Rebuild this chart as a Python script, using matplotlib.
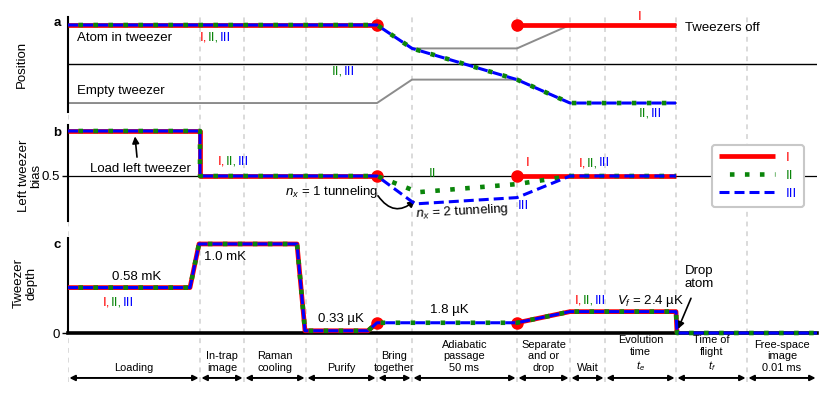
import matplotlib.pyplot as plt
from matplotlib.lines import Line2D
from matplotlib.offsetbox import TextArea, HPacker, AnnotationBbox

plt.rcParams['font.family'] = ['Liberation Sans', 'DejaVu Sans']
plt.rcParams['mathtext.fontset'] = 'custom'
plt.rcParams['mathtext.rm'] = 'Liberation Sans'
plt.rcParams['mathtext.it'] = 'Liberation Sans:italic'
plt.rcParams['lines.scale_dashes'] = False

nan = float('nan')

# stage boundaries (arbitrary time units) and stage names
bounds = [0, 13.2, 17.6, 23.8, 30.9, 34.4, 44.9, 50.2, 53.7, 60.8, 67.9, 74.9]
stages = ['Loading', 'In-trap\nimage', 'Raman\ncooling', 'Purify', 'Bring\ntogether',
          'Adiabatic\npassage\n50 ms', 'Separate\nand or\ndrop', 'Wait',
          'Evolution\ntime\n$t_e$', 'Time of\nflight\n$t_f$', 'Free-space\nimage\n0.01 ms']

# panel a: position
a_t_I = [0, 30.9, nan, 44.9, 60.8]
a_y_I = [1, 1, nan, 1, 1]
a_t_atom = [0, 30.9, 34.4, 44.9, 50.2, 60.8]
a_y_atom = [1, 1, 0.4, -0.4, -1, -1]
a_t_tw = [0, 30.9, 34.4, 44.9, 50.2, 60.8]
a_y_tw_top = [1, 1, 0.4, 0.4, 1, 1]
a_y_tw_bot = [-1, -1, -0.4, -0.4, -1, -1]
a_dots_t = [30.9, 44.9]
a_dots_y = [1, 1]

# panel b: left tweezer bias
b_t_I = [0, 13.2, 13.2, 30.9, nan, 44.9, 60.8]
b_y_I = [1, 1, 0.5, 0.5, nan, 0.5, 0.5]
b_t_II = [0, 13.2, 13.2, 30.9, 35.0, 44.9, 50.2, 60.8]
b_y_II = [1, 1, 0.5, 0.5, 0.32, 0.41, 0.5, 0.5]
b_t_III = [0, 13.2, 13.2, 30.9, 34.7, 44.9, 50.2, 60.8]
b_y_III = [1, 1, 0.5, 0.5, 0.19, 0.26, 0.5, 0.5]
b_dots_t = [30.9, 44.9]
b_dots_y = [0.5, 0.5]

# panel c: tweezer depth
c_t = [0, 12.2, 13.1, 22.9, 23.7, 30.0, 30.9, 44.9, 50.2, 60.8, 60.9, 74.9]
c_y = [0.51, 0.51, 1.0, 1.0, 0.025, 0.025, 0.115, 0.115, 0.24, 0.24, 0.0, 0.0]
c_t_I = [0, 12.2, 13.1, 22.9, 23.7, 30.0, 30.9, nan, 44.9, 50.2, 60.8, 60.9]
c_y_I = [0.51, 0.51, 1.0, 1.0, 0.025, 0.025, 0.115, nan, 0.115, 0.24, 0.24, 0.0]
c_dots_t = [30.9, 44.9]
c_dots_y = [0.115, 0.115]

RED, GREEN, BLUE, GRAY = '#ff0000', '#0a850a', '#0000ff', '#8c8c8c'
sty_I = dict(color=RED, lw=3.4, solid_capstyle='butt', zorder=3)
sty_II = dict(color=GREEN, lw=3.3, linestyle=(3.3, (3.3, 7.5)), dash_capstyle='butt', zorder=4)
sty_III = dict(color=BLUE, lw=2.2, linestyle=(0, (7.2, 3.6)), dash_capstyle='butt', zorder=5)
dot_sty = dict(color=RED, marker='o', ms=8, ls='none', zorder=3.5)

W, H = 831, 396
FS = 9.5


def px_axes(x0, y_top, x1, y_bot):
    return fig.add_axes([x0 / W, 1 - y_bot / H, (x1 - x0) / W, (y_bot - y_top) / H])


def multicolor(ax, x, y, parts):
    boxes = [TextArea(s, textprops=dict(color=c, fontsize=FS)) for s, c in parts]
    pack = HPacker(children=boxes, align='baseline', pad=0, sep=0.5)
    ab = AnnotationBbox(pack, (x, y), xycoords='data', frameon=False,
                        box_alignment=(0, 0.5), pad=0, annotation_clip=False)
    ax.add_artist(ab)


I_II_III = [('I,', RED), ('II,', GREEN), ('III', BLUE)]
II_III = [('II,', GREEN), ('III', BLUE)]

fig = plt.figure(figsize=(W / 100, H / 100), dpi=100)

# background axes carrying the dashed stage separators
bg = px_axes(68, 17, 817, 382)
bg.set_xlim(bounds[0], bounds[-1])
bg.set_ylim(0, 1)
bg.axis('off')
for b in bounds[:-1]:
    bg.axvline(b, color='#d4d4d4', lw=1.2, ls=(0, (3.5, 3.5)), zorder=0)

ax_a = px_axes(68, 17, 817, 112)
ax_b = px_axes(68, 124.7, 817, 221)
ax_c = px_axes(68, 238, 817, 333)
ax_t = px_axes(68, 340, 817, 392)

for ax in (ax_a, ax_b, ax_c, ax_t):
    ax.set_xlim(bounds[0], bounds[-1])
    ax.patch.set_visible(False)
    for s in ('top', 'right', 'bottom'):
        ax.spines[s].set_visible(False)
    ax.spines['left'].set_linewidth(1.5)
    ax.set_xticks([])

# ---- panel a ----
ax_a.set_ylim(-1.23, 1.205)
ax_a.set_yticks([])
ax_a.axhline(0, color='k', lw=1.0, zorder=1)
ax_a.plot(a_t_tw, a_y_tw_top, color=GRAY, lw=1.4, zorder=2)
ax_a.plot(a_t_tw, a_y_tw_bot, color=GRAY, lw=1.4, zorder=2)
ax_a.plot(a_t_I, a_y_I, **sty_I)
ax_a.plot(a_t_atom, a_y_atom, **sty_II)
ax_a.plot(a_t_atom, a_y_atom, **sty_III)
ax_a.plot(a_dots_t, a_dots_y, **dot_sty)
ax_a.text(0.9, 0.67, 'Atom in tweezer', fontsize=FS, va='center')
multicolor(ax_a, 13.2, 0.67, I_II_III)
multicolor(ax_a, 26.4, -0.2, II_III)
ax_a.text(0.9, -0.69, 'Empty tweezer', fontsize=FS, va='center')
ax_a.text(57.2, 1.2, 'I', color=RED, fontsize=FS, ha='center', va='center', clip_on=False)
ax_a.text(61.7, 0.92, 'Tweezers off', fontsize=FS, va='center')
multicolor(ax_a, 57.1, -1.27, II_III)

# ---- panel b ----
ax_b.set_ylim(0, 1.07)
ax_b.set_yticks([0.5])
ax_b.set_yticklabels(['0.5'], fontsize=FS)
ax_b.tick_params(axis='y', length=4, width=1, pad=2)
ax_b.axhline(0.5, color='k', lw=0.9, zorder=1)
ax_b.plot(b_t_I, b_y_I, **sty_I)
ax_b.plot(b_t_II, b_y_II, **sty_II)
ax_b.plot(b_t_III, b_y_III, **sty_III)
ax_b.plot(b_dots_t, b_dots_y, **dot_sty)
ax_b.text(7.25, 0.58, 'Load left tweezer', fontsize=FS, ha='center', va='center')
ax_b.annotate('', xy=(6.7, 0.94), xytext=(6.9, 0.71),
              arrowprops=dict(arrowstyle='-|>', color='k', lw=1.2, mutation_scale=10,
                              shrinkA=0, shrinkB=0))
multicolor(ax_b, 15.0, 0.66, I_II_III)
ax_b.text(31.0, 0.32, '$n_x$ = 1 tunneling', fontsize=FS, ha='right', va='center')
ax_b.annotate('', xy=(34.7, 0.23), xytext=(31.0, 0.28),
              arrowprops=dict(arrowstyle='-|>', color='k', lw=1.2, mutation_scale=10,
                              shrinkA=0, shrinkB=0, connectionstyle='arc3,rad=0.55'))
ax_b.text(39.4, 0.1, '$n_x$ = 2 tunneling', fontsize=FS, ha='center', va='center', rotation=3)
ax_b.text(36.5, 0.52, 'II', color=GREEN, fontsize=FS, ha='center', va='center')
ax_b.text(45.5, 0.17, 'III', color=BLUE, fontsize=FS, ha='center', va='center')
ax_b.text(46.0, 0.64, 'I', color=RED, fontsize=FS, ha='center', va='center')
multicolor(ax_b, 51.1, 0.64, I_II_III)

handles = [Line2D([], [], **{k: v for k, v in sty_I.items() if k != 'zorder'}),
           Line2D([], [], **{k: v for k, v in sty_II.items() if k != 'zorder'}),
           Line2D([], [], **{k: v for k, v in sty_III.items() if k != 'zorder'})]
leg = ax_b.legend(handles, ['I', 'II', 'III'], loc='upper left', bbox_to_anchor=(0.86, 0.79),
                  fontsize=FS, handlelength=4.3, handletextpad=0.8, labelspacing=0.45,
                  borderpad=0.5, borderaxespad=0, framealpha=1, edgecolor='#c8c8c8')
leg.get_frame().set_linewidth(1.5)
for txt, col in zip(leg.get_texts(), [RED, GREEN, BLUE]):
    txt.set_color(col)

# ---- panel c ----
ax_c.set_ylim(0, 1.067)
ax_c.spines['bottom'].set_visible(True)
ax_c.spines['bottom'].set_linewidth(2.6)
ax_c.set_yticks([0])
ax_c.set_yticklabels(['0'], fontsize=FS)
ax_c.tick_params(axis='y', length=4, width=1, pad=2)
ax_c.plot(c_t_I, c_y_I, clip_on=False, **sty_I)
ax_c.plot(c_t, c_y, clip_on=False, **sty_II)
ax_c.plot(c_t, c_y, clip_on=False, **sty_III)
ax_c.plot(c_dots_t, c_dots_y, **dot_sty)
ax_c.text(6.9, 0.63, '0.58 mK', fontsize=FS, ha='center', va='center')
multicolor(ax_c, 3.5, 0.34, I_II_III)
ax_c.text(13.6, 0.85, '1.0 mK', fontsize=FS, va='center')
ax_c.text(25.0, 0.16, '0.33 µK', fontsize=FS, va='center')
ax_c.text(36.2, 0.26, '1.8 µK', fontsize=FS, va='center')
multicolor(ax_c, 50.7, 0.36, I_II_III)
ax_c.text(54.9, 0.36, '$V_f$ = 2.4 µK', fontsize=FS, va='center')
ax_c.text(61.7, 0.62, 'Drop\natom', fontsize=FS, va='center', linespacing=1.1)
ax_c.annotate('', xy=(61.0, 0.045), xytext=(62.3, 0.39),
              arrowprops=dict(arrowstyle='-|>', color='k', lw=1.2, mutation_scale=10,
                              shrinkA=0, shrinkB=0))

# ---- stage timeline ----
ax_t.set_ylim(0, 1)
ax_t.axis('off')
for b0, b1, name in zip(bounds[:-1], bounds[1:], stages):
    ax_t.annotate('', xy=(b1, 0.27), xytext=(b0, 0.27),
                  arrowprops=dict(arrowstyle='<|-|>', color='k', lw=1.4, mutation_scale=8,
                                  shrinkA=1, shrinkB=1))
    ax_t.text((b0 + b1) / 2, 0.37, name, fontsize=7.9, ha='center', va='bottom',
              linespacing=1.2)

# ---- panel labels ----
for txt, (x, y) in zip(['a', 'b', 'c'], [(57, 23), (57, 133), (57, 245)]):
    fig.text(x / W, 1 - y / H, txt, fontsize=FS, fontweight='bold', ha='center', va='center')
fig.text(22 / W, 1 - 64 / H, 'Position', fontsize=FS, rotation=90, ha='center', va='center')
fig.text(30 / W, 1 - 176 / H, 'Left tweezer\nbias', fontsize=FS, rotation=90,
         ha='center', va='center', linespacing=1.1)
fig.text(25 / W, 1 - 283 / H, 'Tweezer\ndepth', fontsize=FS, rotation=90,
         ha='center', va='center', linespacing=1.1)

fig.savefig('out.png', dpi=100)
